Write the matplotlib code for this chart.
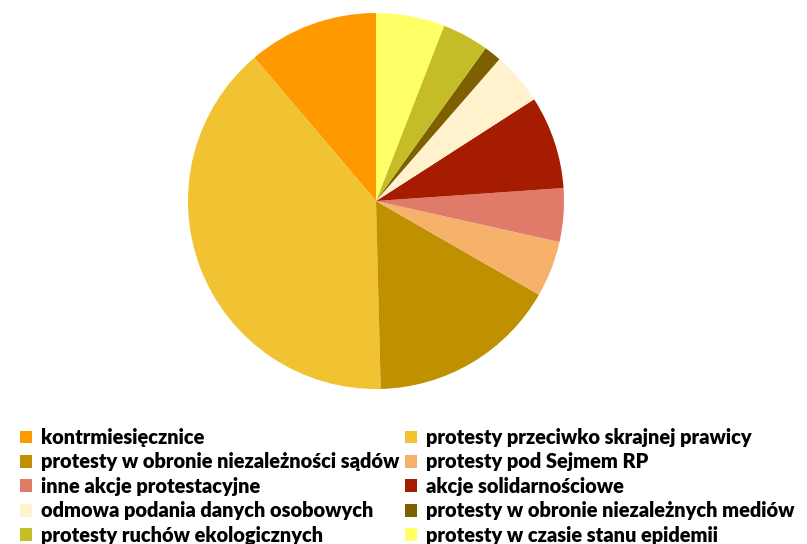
#pie chart of protest types with a two column legend underneath

import matplotlib.pyplot as plt
from matplotlib.patches import Patch

labels = ["kontrmiesięcznice",
          "protesty przeciwko skrajnej prawicy",
          "protesty w obronie niezależności sądów",
          "protesty pod Sejmem RP",
          "inne akcje protestacyjne",
          "akcje solidarnościowe",
          "odmowa podania danych osobowych",
          "protesty w obronie niezależnych mediów",
          "protesty ruchów ekologicznych",
          "protesty w czasie stanu epidemii"]

shares = [11.2, 39.2, 16.3, 4.8, 4.6, 8.0, 4.5, 1.5, 4.0, 5.9]

colors = ["#FF9900", "#F1C232", "#BF9000", "#F6B26B", "#E07B6A",
          "#A61C00", "#FFF2CC", "#7F6000", "#C4BD28", "#FFFF66"]

plt.rcParams['font.family'] = ['Lato', 'DejaVu Sans']

fig = plt.figure(figsize=(8.07, 5.44), dpi=100)

#square axes so the pie lands where the original one is
ax = fig.add_axes([188 / 807, 155 / 544, 376 / 807, 376 / 544])
wedges, _ = ax.pie(shares, colors=colors, startangle=90, counterclock=True,
                   radius=1, wedgeprops=dict(linewidth=0))
ax.set_xlim(-1, 1)
ax.set_ylim(-1, 1)
ax.set_aspect("equal")
ax.axis("off")

#legend is row-wise: even items on the left, odd items on the right
def make_legend(idx, x):
    handles = [Patch(facecolor=colors[i], edgecolor="none") for i in idx]
    leg = fig.legend(handles, [labels[i] for i in idx],
                     loc="upper left", bbox_to_anchor=(x, 1 - 428 / 544),
                     frameon=False, prop=dict(size=14.4, weight="heavy"),
                     handlelength=0.6, handleheight=0.6, handletextpad=0.45,
                     labelspacing=0.27, borderaxespad=0, borderpad=0)
    return leg

make_legend([0, 2, 4, 6, 8], 20 / 807)
make_legend([1, 3, 5, 7, 9], 405 / 807)

plt.savefig("out.png", dpi=100)
